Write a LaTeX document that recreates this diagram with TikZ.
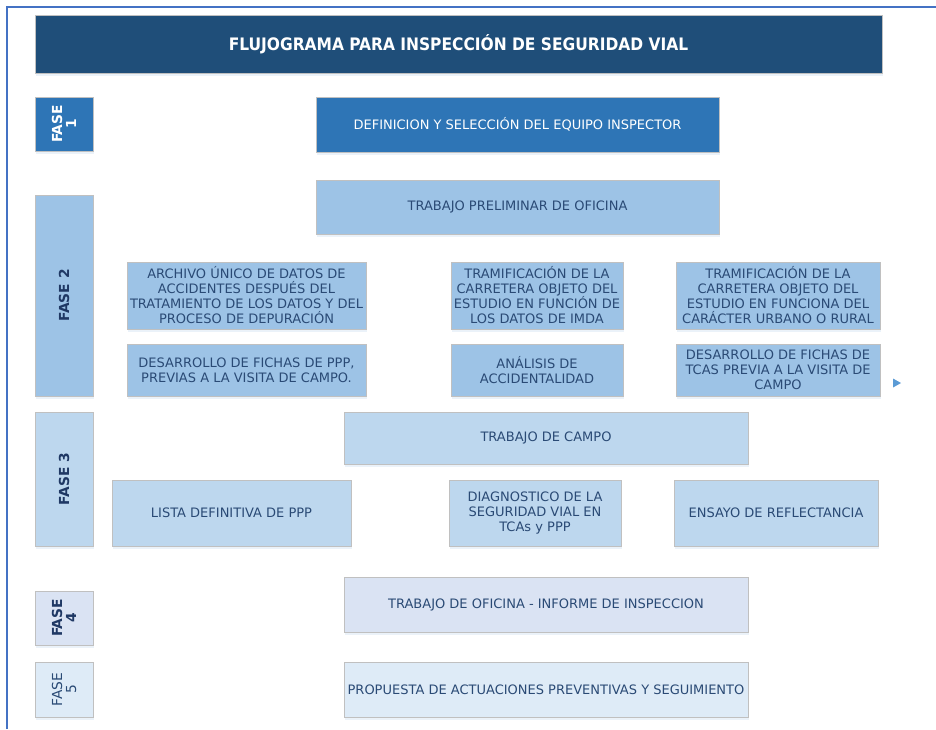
\documentclass[tikz,border=0pt]{standalone}
\usepackage{fontspec}
\setmainfont{DejaVu Sans}
\newfontfamily\titlefont{DejaVu Sans Condensed}
\usetikzlibrary{shadows}
\definecolor{frameblue}{HTML}{4472C4}
\definecolor{navy}{HTML}{1F4E79}
\definecolor{midblue}{HTML}{2E75B6}
\definecolor{lblue}{HTML}{9DC3E6}
\definecolor{llblue}{HTML}{BDD7EE}
\definecolor{lav}{HTML}{DAE3F3}
\definecolor{pale}{HTML}{DEEBF7}
\definecolor{txt}{HTML}{2A4A75}
\definecolor{phtxt}{HTML}{1F3864}
\definecolor{edge}{HTML}{C0C0C0}
\definecolor{tri}{HTML}{5B9BD5}
\begin{document}
\begin{tikzpicture}[x=1pt,y=-1pt,
  boxbase/.style={draw=edge, line width=0.9pt, inner sep=0pt, align=center,
    font=\fontsize{13}{15}\selectfont, text=txt,
    drop shadow={shadow xshift=1pt, shadow yshift=-2.5pt, opacity=0.12, fill=tri}},
  phase/.style={boxbase, rotate=90, font=\fontsize{13.8}{14}\selectfont\bfseries, text=phtxt}]
\useasboundingbox (0,0) rectangle (936,729);
\fill[white] (0,0) rectangle (936,729);
% frame
\draw[frameblue, line width=1.6pt] (7,729) coordinate (fbl) -- (7,7) coordinate (ftl) -- (936,7) coordinate (ftr);
% title
\node[boxbase, fill=navy, text=white, minimum width=847pt, minimum height=58pt,
  font=\titlefont\fontsize{17.2}{19}\selectfont\bfseries] (title) at (458.5,44) {FLUJOGRAMA PARA INSPECCIÓN DE SEGURIDAD VIAL};
% phase 1
\node[phase, fill=midblue, text=white, minimum width=54pt, minimum height=58pt] (f1) at (64,124) {FASE\\1};
\node[boxbase, fill=midblue, text=white, minimum width=403pt, minimum height=55pt] (def) at (517.5,124.5) {DEFINICION Y SELECCIÓN DEL EQUIPO INSPECTOR};
% phase 2
\node[phase, fill=lblue, minimum width=201pt, minimum height=58pt] (f2) at (64,295.5) {FASE 2};
\node[boxbase, fill=lblue, minimum width=403pt, minimum height=54pt] (prelim) at (517.5,207) {TRABAJO PRELIMINAR DE OFICINA};
\node[boxbase, fill=lblue, minimum width=239pt, minimum height=67pt] (arch) at (246.5,295.5) {ARCHIVO ÚNICO DE DATOS DE\\ACCIDENTES DESPUÉS DEL\\TRATAMIENTO DE LOS DATOS Y DEL\\PROCESO DE DEPURACIÓN};
\node[boxbase, fill=lblue, minimum width=172pt, minimum height=67pt] (tram1) at (537,295.5) {TRAMIFICACIÓN DE LA\\CARRETERA OBJETO DEL\\ESTUDIO EN FUNCIÓN DE\\LOS DATOS DE IMDA};
\node[boxbase, fill=lblue, minimum width=204pt, minimum height=67pt] (tram2) at (778,295.5) {TRAMIFICACIÓN DE LA\\CARRETERA OBJETO DEL\\ESTUDIO EN FUNCIONA DEL\\CARÁCTER URBANO O RURAL};
\node[boxbase, fill=lblue, minimum width=239pt, minimum height=52pt] (desppp) at (246.5,370) {DESARROLLO DE FICHAS DE PPP,\\PREVIAS A LA VISITA DE CAMPO.};
\node[boxbase, fill=lblue, minimum width=172pt, minimum height=52pt] (anal) at (537,370) {ANÁLISIS DE\\ACCIDENTALIDAD};
\node[boxbase, fill=lblue, minimum width=204pt, minimum height=52pt] (destcas) at (778,370) {DESARROLLO DE FICHAS DE\\TCAS PREVIA A LA VISITA DE\\CAMPO};
\coordinate (tip) at (901,383);
\fill[tri] (tip) -- ++(-8,-4.5) -- ++(0,9) -- cycle;
% phase 3
\node[phase, fill=llblue, minimum width=134pt, minimum height=58pt] (f3) at (64,479) {FASE 3};
\node[boxbase, fill=llblue, minimum width=404pt, minimum height=52pt] (campo) at (546,438) {TRABAJO DE CAMPO};
\node[boxbase, fill=llblue, minimum width=239pt, minimum height=66pt] (lista) at (231.5,513) {LISTA DEFINITIVA DE PPP};
\node[boxbase, fill=llblue, minimum width=172pt, minimum height=66pt] (diag) at (535,513) {DIAGNOSTICO DE LA\\SEGURIDAD VIAL EN\\TCAs y PPP};
\node[boxbase, fill=llblue, minimum width=204pt, minimum height=66pt] (ensayo) at (776,513) {ENSAYO DE REFLECTANCIA};
% phase 4
\node[phase, fill=lav, minimum width=54pt, minimum height=58pt] (f4) at (64,618) {FASE\\4};
\node[boxbase, fill=lav, minimum width=404pt, minimum height=55pt] (ofic) at (546,604.5) {TRABAJO DE OFICINA - INFORME DE INSPECCION};
% phase 5
\node[phase, fill=pale, minimum width=55pt, minimum height=58pt, font=\fontsize{13.8}{14}\selectfont, text=txt] (f5) at (64,689.5) {FASE\\5};
\node[boxbase, fill=pale, minimum width=404pt, minimum height=55pt] (prop) at (546,689.5) {PROPUESTA DE ACTUACIONES PREVENTIVAS Y SEGUIMIENTO};
\end{tikzpicture}
\end{document}
